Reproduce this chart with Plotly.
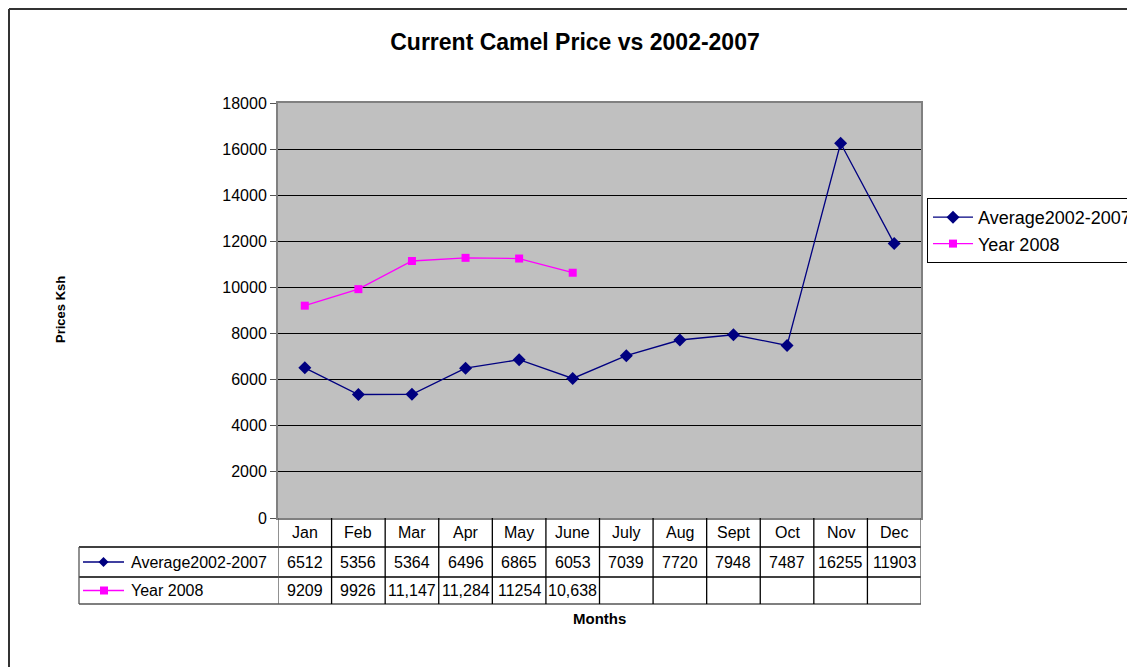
import plotly.graph_objects as go

# ---- data ----
months = ["Jan", "Feb", "Mar", "Apr", "May", "June", "July", "Aug", "Sept", "Oct", "Nov", "Dec"]
avg_0207 = [6512, 5356, 5364, 6496, 6865, 6053, 7039, 7720, 7948, 7487, 16255, 11903]
year_2008 = [9209, 9926, 11147, 11284, 11254, 10638]
year_2008_labels = ["9209", "9926", "11,147", "11,284", "11254", "10,638"]
series_names = ["Average2002-2007", "Year 2008"]
y_ticks = [0, 2000, 4000, 6000, 8000, 10000, 12000, 14000, 16000, 18000]

W, H = 1135, 667
OFF = 8  # page body margin offset
def px(x): return (x - OFF) / W
def py(y): return 1 - (y - OFF) / H

FONT = "Liberation Sans, Arial, sans-serif"
NAVY = "#000080"
MAG = "#FF00FF"

# plot area in (window) pixels
PL, PR, PT, PB = 278, 921, 103, 518
ROW1_T, ROW2_T, TBL_B = 547, 577, 604
TBL_L = 79

fig = go.Figure()
xi = list(range(len(months)))
fig.add_trace(go.Scatter(x=xi, y=avg_0207, mode="lines+markers", name=series_names[0],
                         line=dict(color=NAVY, width=1.3),
                         marker=dict(symbol="diamond", size=10, color=NAVY)))
fig.add_trace(go.Scatter(x=xi[:len(year_2008)], y=year_2008, mode="lines+markers", name=series_names[1],
                         line=dict(color=MAG, width=1.3),
                         marker=dict(symbol="square", size=8, color=MAG)))

shapes = []
annotations = []

def ann(x, y, text, size=16, xref="paper", xanchor="center", yanchor="middle", **kw):
    d = dict(x=x, y=y, xref=xref, yref="paper", text=text, showarrow=False,
             xanchor=xanchor, yanchor=yanchor,
             font=dict(family=FONT, size=size, color="black"))
    d.update(kw)
    annotations.append(d)

# outer frame (top & left)
shapes.append(dict(type="line", xref="paper", yref="paper", x0=1 / W, x1=1, y0=1 - 1 / H, y1=1 - 1 / H,
                   line=dict(color="#333333", width=2)))
shapes.append(dict(type="line", xref="paper", yref="paper", x0=1 / W, x1=1 / W, y0=1 - 1 / H, y1=0,
                   line=dict(color="#333333", width=2)))

# data table grid
for yy, col in [(ROW1_T, "black"), (ROW2_T, "black"), (TBL_B, "#555555")]:
    shapes.append(dict(type="line", xref="paper", yref="paper", x0=px(TBL_L), x1=px(PR),
                       y0=py(yy), y1=py(yy), line=dict(color=col, width=1.3)))
for i in range(len(months) + 1):
    col = "#555555" if i in (0, len(months)) else "black"
    shapes.append(dict(type="line", xref="x", yref="paper", x0=i - 0.5, x1=i - 0.5,
                       y0=py(PB), y1=py(TBL_B), line=dict(color=col, width=1.3)))
shapes.append(dict(type="line", xref="paper", yref="paper", x0=px(TBL_L), x1=px(TBL_L),
                   y0=py(ROW1_T), y1=py(TBL_B), line=dict(color="#555555", width=1.3)))

# header labels and values
for i, m in enumerate(months):
    ann(i, py((PB + ROW1_T) / 2), m, xref="x")
r1 = py((ROW1_T + ROW2_T) / 2)
r2 = py((ROW2_T + TBL_B) / 2)
for i, v in enumerate(avg_0207):
    ann(i, r1, str(v), xref="x")
for i, s in enumerate(year_2008_labels):
    ann(i, r2, s, xref="x")

# row header keys + names
for ry, name, col, sym in [((ROW1_T + ROW2_T) / 2, series_names[0], NAVY, "diamond"),
                           ((ROW2_T + TBL_B) / 2, series_names[1], MAG, "square")]:
    shapes.append(dict(type="line", xref="paper", yref="paper", x0=px(83), x1=px(124),
                       y0=py(ry), y1=py(ry), line=dict(color=col, width=1.3)))
    if sym == "diamond":
        path = (f"M {px(103.5)},{py(ry-5)} L {px(108.5)},{py(ry)} L {px(103.5)},{py(ry+5)} "
                f"L {px(98.5)},{py(ry)} Z")
    else:
        path = (f"M {px(100)},{py(ry-4)} L {px(108)},{py(ry-4)} L {px(108)},{py(ry+4)} "
                f"L {px(100)},{py(ry+4)} Z")
    shapes.append(dict(type="path", xref="paper", yref="paper", path=path,
                       fillcolor=col, line=dict(color=col, width=0)))
    ann(px(129), py(ry), name, xanchor="left")

# axis titles
ann(px(60), py(310), "<b>Prices Ksh</b>", size=13, textangle=-90)
ann(px(599), py(618), "<b>Months</b>", size=15)

fig.update_layout(
    width=W, height=H,
    margin=dict(l=0, r=0, t=0, b=0, autoexpand=False),
    paper_bgcolor="white",
    plot_bgcolor="#C0C0C0",
    title=dict(text="<b>Current Camel Price vs 2002-2007</b>", x=px(575), xanchor="center",
               xref="paper", yref="paper",
               y=py(42), yanchor="middle", font=dict(family=FONT, size=23, color="black")),
    xaxis=dict(domain=[px(PL), px(PR)], range=[-0.5, len(months) - 0.5], showticklabels=False,
               showgrid=False, zeroline=False, showline=True, linecolor="#808080", linewidth=2,
               mirror=True, ticks="", automargin=False),
    yaxis=dict(domain=[py(PB), py(PT)], range=[0, 18000], tickvals=y_ticks, tickformat="d",
               showgrid=True, gridcolor="black", gridwidth=1, zeroline=False,
               showline=True, linecolor="#808080", linewidth=2, mirror=True,
               ticks="outside", ticklen=6, tickcolor="#555555", automargin=False,
               tickfont=dict(family=FONT, size=16, color="black")),
    legend=dict(x=px(927), y=py(198), xanchor="left", yanchor="top",
                bordercolor="black", borderwidth=1, bgcolor="white",
                font=dict(family=FONT, size=18, color="black"), itemwidth=40),
    shapes=shapes,
    annotations=annotations,
    showlegend=True,
)

fig.write_html("out.html")
